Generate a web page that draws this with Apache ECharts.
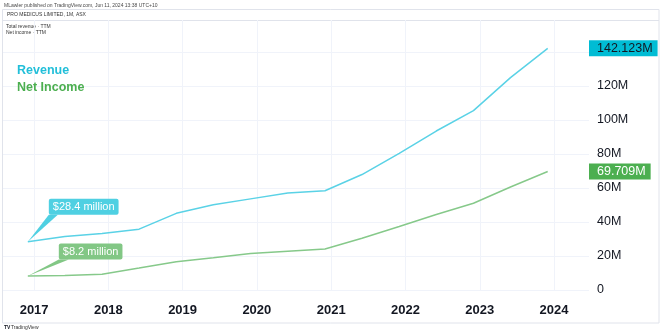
<!DOCTYPE html>
<html>
<head>
<meta charset="utf-8">
<title>PRO MEDICUS LIMITED – Revenue and Net Income (TTM)</title>
<script src="https://cdn.jsdelivr.net/npm/echarts@6/dist/echarts.min.js"></script>
<style>
  html, body { margin: 0; padding: 0; background: #ffffff; }
  #chart { width: 663px; height: 336px; }
</style>
</head>
<body>
<div id="chart"></div>
<script>
// Trailing-twelve-month figures, one point per half year (monthly bars, start of month), in A$ millions
const periods = [
  '2016-12-01', '2017-06-01', '2017-12-01', '2018-06-01', '2018-12-01',
  '2019-06-01', '2019-12-01', '2020-06-01', '2020-12-01', '2021-06-01',
  '2021-12-01', '2022-06-01', '2022-12-01', '2023-06-01', '2023-12-01'
];
const revenue = [28.4, 31.4, 33.3, 35.8, 45.1, 50.1, 53.6, 57.1, 58.4, 67.9, 80.3, 93.5, 105.5, 124.9, 142.123];
const netIncome = [8.2, 8.5, 9.3, 12.9, 16.6, 19.0, 21.5, 22.8, 24.1, 30.4, 37.3, 44.4, 51.0, 60.6, 69.709];
const seriesNames = ['Revenue', 'Net Income'];
const yTickStep = 20;

const FONT = '"Liberation Sans", Arial, Helvetica, sans-serif';
const INK = '#131722';
const GRID = '#f0f3fa';
const REV_LINE = '#5ad2e6';
const NI_LINE = '#86c98a';

const pts = (vals) => periods.map((d, i) => [d, vals[i]]);
const last = revenue.length - 1;

// callout: a rounded box with a thin tail that ends on the first point
function callout(seriesVals, color, tailW, tailH, boxX, baseW) {
  return {
    silent: true,
    animation: false,
    data: [{
      coord: [periods[0], seriesVals[0]],
      value: seriesVals[0],
      symbol: 'path://M' + boxX + ' 0 L' + (boxX + baseW) + ' 0 L0 ' + tailH + ' Z',
      symbolSize: [tailW, tailH],
      symbolOffset: [tailW / 2, -tailH / 2],
      itemStyle: { color: color },
      label: {
        show: true,
        position: [boxX, 0],
        align: 'left',
        verticalAlign: 'bottom',
        formatter: (p) => '$' + p.value + ' million',
        color: '#ffffff',
        fontFamily: FONT,
        fontSize: 11,
        lineHeight: 13,
        backgroundColor: color,
        borderRadius: 2,
        padding: [2, 4, 1, 4]
      }
    }]
  };
}

// value tag on the price scale for the latest point
function scaleTag(value, bg, fg) {
  return {
    silent: true,
    animation: false,
    precision: 3,
    symbol: 'none',
    lineStyle: { color: 'transparent', width: 0 },
    label: {
      show: true,
      position: 'end',
      distance: 0,
      formatter: () => value.toFixed(3) + 'M',
      color: fg,
      fontFamily: FONT,
      fontSize: 12.5,
      lineHeight: 14,
      backgroundColor: bg,
      padding: [1, 5, 1, 8]
    },
    data: [{ yAxis: value }]
  };
}

const chart = echarts.init(document.getElementById('chart'), null, { renderer: 'canvas' });

chart.setOption({
  animation: false,
  backgroundColor: '#ffffff',
  grid: { left: 3, right: 74, top: 20, bottom: 46, containLabel: false },
  legend: {
    orient: 'vertical',
    left: 7,
    top: 59,
    itemWidth: 0,
    itemHeight: 0,
    itemGap: 4,
    icon: 'none',
    selectedMode: false,
    textStyle: { fontFamily: FONT, fontSize: 12.5, fontWeight: 'bold' },
    data: [
      { name: seriesNames[0], textStyle: { color: '#22bfd9' } },
      { name: seriesNames[1], textStyle: { color: '#4caf50' } }
    ]
  },
  xAxis: {
    type: 'time',
    min: Date.UTC(2016, 7, 1),
    max: Date.UTC(2024, 5, 21),
    splitNumber: 8,
    minInterval: 360 * 24 * 3600 * 1000,
    axisLine: { show: false },
    axisTick: { show: false },
    splitLine: { show: true, showMinLine: false, showMaxLine: false, lineStyle: { color: GRID, width: 1 } },
    axisLabel: {
      showMinLabel: false,
      showMaxLabel: false,
      margin: 14,
      color: INK,
      fontFamily: FONT,
      fontSize: 13,
      fontWeight: 'bold',
      formatter: (v) => String(new Date(v).getFullYear())
    }
  },
  yAxis: {
    type: 'value',
    position: 'right',
    min: 0,
    max: 158.8,
    interval: yTickStep,
    axisLine: { show: false },
    axisTick: { show: false },
    splitLine: { show: true, showMaxLine: false, lineStyle: { color: GRID, width: 1 } },
    axisLabel: {
      showMaxLabel: false,
      margin: 8,
      color: INK,
      fontFamily: FONT,
      fontSize: 12.5,
      formatter: (v) => (v === 0 ? '0' : v + 'M')
    }
  },
  series: [
    {
      name: seriesNames[0],
      type: 'line',
      data: pts(revenue),
      symbol: 'none',
      color: REV_LINE,
      lineStyle: { color: REV_LINE, width: 1.5 },
      z: 3,
      markPoint: callout(revenue, '#4fd0e2', 30, 27, 21, 9),
      markLine: scaleTag(revenue[last], '#00bcd4', INK)
    },
    {
      name: seriesNames[1],
      type: 'line',
      data: pts(netIncome),
      symbol: 'none',
      color: NI_LINE,
      lineStyle: { color: NI_LINE, width: 1.5 },
      z: 3,
      markPoint: callout(netIncome, '#82c785', 41, 16.5, 31, 10),
      markLine: scaleTag(netIncome[last], '#4caf50', '#ffffff')
    }
  ],
  graphic: [
    {
      type: 'rect',
      silent: true,
      shape: { x: 2.5, y: 9.5, width: 656.5, height: 313.5 },
      style: { fill: 'none', stroke: '#e0e3eb', lineWidth: 1 }
    },
    {
      type: 'line',
      silent: true,
      shape: { x1: 2.5, y1: 20.5, x2: 659, y2: 20.5 },
      style: { stroke: '#e0e3eb', lineWidth: 1 }
    },
    {
      type: 'text', silent: true, left: 4, top: 3,
      style: { text: 'MLawler published on TradingView.com, Jun 11, 2024 13:38 UTC+10', fill: '#4a4a4a', font: '5px ' + FONT }
    },
    {
      type: 'text', silent: true, left: 7, top: 12.5,
      style: { text: 'PRO MEDICUS LIMITED, 1M, ASX', fill: '#333333', font: '5px ' + FONT }
    },
    {
      type: 'text', silent: true, left: 6, top: 24,
      style: { text: 'Total revenue · TTM', fill: '#333333', font: '5px ' + FONT }
    },
    {
      type: 'text', silent: true, left: 6, top: 30.5,
      style: { text: 'Net income · TTM', fill: '#333333', font: '5px ' + FONT }
    },
    {
      type: 'text', silent: true, left: 4, top: 325.5,
      style: { text: 'TV', fill: '#131722', font: 'bold 5px ' + FONT }
    },
    {
      type: 'text', silent: true, left: 11, top: 325.5,
      style: { text: 'TradingView', fill: '#333333', font: '5px ' + FONT }
    }
  ]
});
</script>
</body>
</html>
